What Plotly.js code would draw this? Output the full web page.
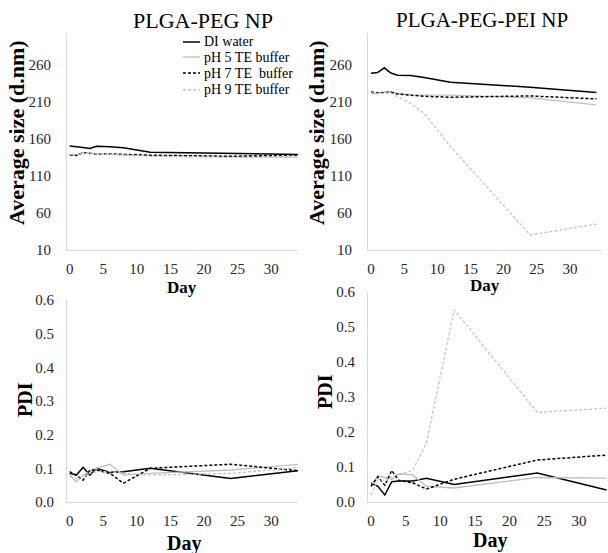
<!DOCTYPE html>
<html><head><meta charset="utf-8">
<script src="https://cdn.plot.ly/plotly-3.0.1.min.js"></script>
<style>html,body{margin:0;padding:0;background:#fff}#chart{width:608px;height:553px}</style>
</head><body><div id="chart"></div>
<script>
const days = [0, 1, 2, 3, 4, 6, 8, 12, 24, 34];
const seriesNames = ["DI water", "pH 5 TE buffer", "pH 7 TE  buffer", "pH 9 TE buffer"];

// PLGA-PEG NP : average size (d.nm)
const pegSizeDI  = [150.5, 150, 148.5, 147, 150, 149.5, 148, 142, 140.6, 139];
const pegSizePH5 = [138.5, 138, 141, 140.5, 139.5, 139, 138.5, 137.5, 136, 135.5];
const pegSizePH7 = [138.5, 137.5, 141.5, 141, 139.5, 139.7, 139, 138, 136.5, 138.4];
const pegSizePH9 = [139, 139.5, 141, 141, 140, 139, 138, 136.5, 135, 135];

// PLGA-PEG-PEI NP : average size (d.nm)
const peiSizeDI  = [248.8, 249.5, 256, 249, 246, 245.5, 243, 236.6, 229.8, 222.6];
const peiSizePH5 = [220.8, 221.5, 223, 224, 221.5, 219.5, 219.5, 219, 215.5, 206];
const peiSizePH7 = [223.5, 222, 222.5, 223, 220.5, 218.5, 217.5, 216.3, 218, 214];
const peiSizePH9 = [222, 221, 222, 222, 217, 208, 194.7, 149.6, 30.3, 45];

// PLGA-PEG NP : PDI
const pegPdiDI  = [0.085, 0.08, 0.103, 0.08, 0.1, 0.088, 0.09, 0.1, 0.07, 0.093];
const pegPdiPH5 = [0.08, 0.06, 0.08, 0.09, 0.1, 0.112, 0.08, 0.085, 0.095, 0.112];
const pegPdiPH7 = [0.09, 0.08, 0.065, 0.095, 0.095, 0.085, 0.056, 0.1, 0.112, 0.093];
const pegPdiPH9 = [0.075, 0.07, 0.075, 0.085, 0.09, 0.09, 0.085, 0.08, 0.085, 0.102];

// PLGA-PEG-PEI NP : PDI
const peiPdiDI  = [0.054, 0.045, 0.02, 0.058, 0.06, 0.06, 0.068, 0.05, 0.083, 0.034];
const peiPdiPH5 = [0.045, 0.075, 0.07, 0.065, 0.08, 0.078, 0.045, 0.04, 0.07, 0.068];
const peiPdiPH7 = [0.045, 0.072, 0.048, 0.09, 0.062, 0.055, 0.037, 0.065, 0.12, 0.134];
const peiPdiPH9 = [0.02, 0.065, 0.06, 0.072, 0.08, 0.09, 0.168, 0.549, 0.256, 0.268];

const sizeTicks = [10, 60, 110, 160, 210, 260];
const pdiTicks = [0, 0.1, 0.2, 0.3, 0.4, 0.5, 0.6];
const dayTicks = [0, 5, 10, 15, 20, 25, 30];

const styles = [
  {color: "#000000", width: 1.5, dash: "solid"},
  {color: "#bfbfbf", width: 1.3, dash: "solid"},
  {color: "#000000", width: 1.5, dash: "3px,2px"},
  {color: "#c4c4c4", width: 1.3, dash: "3px,2px"}
];

const panels = [
  {xa: "x",  ya: "y",  data: [pegSizeDI, pegSizePH5, pegSizePH7, pegSizePH9]},
  {xa: "x2", ya: "y2", data: [peiSizeDI, peiSizePH5, peiSizePH7, peiSizePH9]},
  {xa: "x3", ya: "y3", data: [pegPdiDI, pegPdiPH5, pegPdiPH7, pegPdiPH9]},
  {xa: "x4", ya: "y4", data: [peiPdiDI, peiPdiPH5, peiPdiPH7, peiPdiPH9]}
];

const traces = [];
panels.forEach(p => {
  p.data.forEach((ys, i) => {
    traces.push({
      type: "scatter", mode: "lines", x: days, y: ys,
      xaxis: p.xa, yaxis: p.ya, name: seriesNames[i],
      showlegend: false, cliponaxis: true,
      line: {color: styles[i].color, width: styles[i].width, dash: styles[i].dash}
    });
  });
});

const F = "Liberation Serif";
const tickFont = {family: F, size: 15, color: "#262626"};
const W = 608, H = 553;
const px = v => v / W, py = v => (H - v) / H;

function xax(d0, d1, r0, r1, anchor) {
  return {domain: [px(d0), px(d1)], range: [r0, r1], anchor: anchor,
    tickvals: dayTicks, ticktext: dayTicks.map(String), tickfont: tickFont,
    showline: true, linecolor: "#d9d9d9", linewidth: 1, showgrid: false, zeroline: false,
    ticks: "outside", ticklen: 5, tickcolor: "rgba(0,0,0,0)"};
}
function yax(top, bot, r0, r1, vals, fmt, anchor, tl) {
  return {domain: [py(bot), py(top)], range: [r0, r1], anchor: anchor,
    tickvals: vals, ticktext: vals.map(v => fmt(v)), tickfont: tickFont,
    showline: true, linecolor: "#d9d9d9", linewidth: 1, showgrid: false, zeroline: false,
    ticks: "outside", ticklen: tl, tickcolor: "rgba(0,0,0,0)"};
}

const ann = (x, y, text, size, bold, angle) => ({
  xref: "paper", yref: "paper", x: px(x), y: py(y), xanchor: "center", yanchor: "middle",
  text: bold ? "<b>" + text + "</b>" : text, showarrow: false, textangle: angle || 0,
  font: {family: F, size: size, color: "#000"}
});

// hand-placed legend (top-left panel)
const legendY = [42, 57, 73, 90];
const legendShapes = styles.map((s, i) => ({
  type: "line", xref: "paper", yref: "paper",
  x0: px(183), x1: px(200), y0: py(legendY[i]), y1: py(legendY[i]),
  line: {color: s.color, width: s.width, dash: s.dash}
}));
const legendText = seriesNames.map((n, i) => ({
  xref: "paper", yref: "paper", x: px(202), y: py(legendY[i]), xanchor: "left", yanchor: "middle",
  text: n.replace(/  /g, " &nbsp;"), showarrow: false, font: {family: F, size: 14, color: "#000"}
}));

const layout = {
  width: W, height: H, margin: {l: 0, r: 0, t: 0, b: 0},
  paper_bgcolor: "#fff", plot_bgcolor: "rgba(0,0,0,0)",
  showlegend: false,
  xaxis:  xax(67, 298, -0.4, 34, "y"),
  yaxis:  yax(33, 250, 10, 303, sizeTicks, v => String(v), "x", 12),
  xaxis2: xax(368, 602, -0.45, 34.84, "y2"),
  yaxis2: yax(33, 250, 10, 303, sizeTicks, v => String(v), "x2", 12),
  xaxis3: xax(67, 298, -0.4, 34, "y3"),
  yaxis3: yax(300, 502, 0, 0.6, pdiTicks, v => v.toFixed(1), "x3", 9),
  xaxis4: xax(368, 608, -0.43, 34.2, "y4"),
  yaxis4: yax(292, 502, 0, 0.6, pdiTicks, v => v.toFixed(1), "x4", 9),
  shapes: legendShapes,
  annotations: [
    ann(203, 20, "PLGA-PEG NP", 22, false),
    ann(482, 20, "PLGA-PEG-PEI NP", 21, false),
    ann(17, 133, "Average size (d.nm)", 22, true, -90),
    ann(317, 133, "Average size (d.nm)", 22, true, -90),
    ann(25, 400, "PDI", 20, true, -90),
    ann(325, 392, "PDI", 20, true, -90),
    ann(182, 287, "Day", 17, true),
    ann(485, 285, "Day", 17, true),
    ann(184, 543, "Day", 20, true),
    ann(490, 540, "Day", 20, true)
  ].concat(legendText)
};

Plotly.newPlot("chart", traces, layout, {displayModeBar: false, staticPlot: true});
</script></body></html>
